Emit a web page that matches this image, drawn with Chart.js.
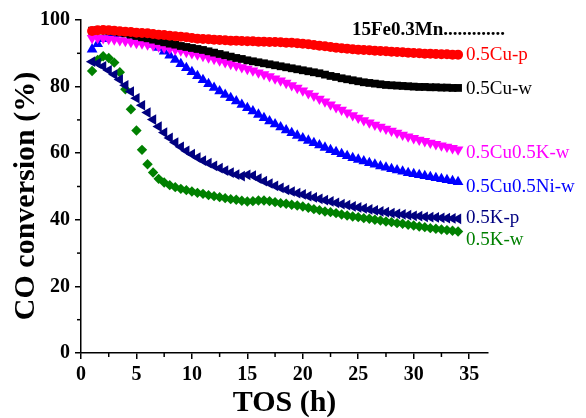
<!DOCTYPE html>
<html><head><meta charset="utf-8">
<script src="https://cdn.jsdelivr.net/npm/chart.js@4.4.0/dist/chart.umd.min.js"></script>
<style>html,body{margin:0;padding:0;background:#fff}</style>
</head><body>
<canvas id="c" width="586" height="418"></canvas>
<script>
const tos = [1,1.5,2,2.5,3,3.5,4,4.5,5,5.5,6,6.5,7,7.5,8,8.5,9,9.5,10,10.5,11,11.5,12,12.5,13,13.5,14,14.5,15,15.5,16,16.5,17,17.5,18,18.5,19,19.5,20,20.5,21,21.5,22,22.5,23,23.5,24,24.5,25,25.5,26,26.5,27,27.5,28,28.5,29,29.5,30,30.5,31,31.5,32,32.5,33,33.5,34];
const cuP = [96.7,96.9,97.0,96.9,96.8,96.6,96.5,96.4,96.2,96.1,
 96.0,95.8,95.6,95.5,95.3,95.1,95.0,94.8,94.6,94.4,
 94.3,94.2,94.1,94.0,93.9,93.8,93.8,93.7,93.6,93.6,
 93.5,93.5,93.4,93.4,93.3,93.2,93.2,93.0,92.9,92.7,
 92.5,92.3,92.1,91.9,91.7,91.5,91.4,91.2,91.1,91.0,
 90.9,90.8,90.7,90.6,90.5,90.4,90.3,90.2,90.1,90.0,
 89.9,89.9,89.8,89.7,89.7,89.6,89.6];
const cuW = [96.8,96.9,96.9,96.8,96.6,96.3,96.0,95.6,95.2,94.8,
 94.5,94.1,93.7,93.3,92.9,92.6,92.2,91.9,91.6,91.3,
 91.0,90.6,90.2,89.8,89.4,89.0,88.6,88.3,87.9,87.6,
 87.3,87.0,86.7,86.4,86.1,85.8,85.5,85.2,84.9,84.6,
 84.3,84.0,83.6,83.2,82.9,82.5,82.2,81.9,81.6,81.3,
 81.1,80.9,80.7,80.5,80.4,80.3,80.2,80.1,80.0,79.9,
 79.9,79.8,79.8,79.7,79.7,79.6,79.6];
const cuKW = [94.6,94.6,94.5,94.3,94.1,93.9,93.7,93.4,93.1,92.9,
 92.6,92.3,92.0,91.7,91.4,91.1,90.8,90.4,90.0,89.6,
 89.2,88.7,88.3,87.8,87.3,86.8,86.3,85.8,85.3,84.8,
 84.2,83.7,83.1,82.4,81.8,81.1,80.4,79.6,78.8,78.0,
 77.2,76.3,75.5,74.6,73.8,73.0,72.2,71.4,70.6,69.9,
 69.2,68.5,67.9,67.3,66.7,66.1,65.5,65.0,64.5,64.0,
 63.6,63.1,62.7,62.3,61.9,61.5,61.1];
const cuNiW = [91.2,92.8,94.3,95.3,95.8,96.0,95.9,95.6,95.1,94.4,
 93.6,92.7,91.7,90.6,89.4,88.1,86.8,85.6,84.4,83.2,
 82.0,80.8,79.7,78.6,77.6,76.6,75.6,74.6,73.6,72.6,
 71.6,70.6,69.6,68.7,67.8,66.9,66.1,65.3,64.5,63.8,
 63.1,62.4,61.7,61.0,60.4,59.8,59.2,58.6,58.1,57.6,
 57.1,56.6,56.1,55.7,55.3,54.9,54.5,54.1,53.8,53.5,
 53.2,52.9,52.6,52.3,52.0,51.7,51.4];
const kP = [87.5,87.0,86.1,84.9,83.6,82.1,80.4,78.5,76.5,74.4,
 72.2,70.1,68.0,66.2,64.6,63.2,61.9,60.7,59.7,58.7,
 57.8,57.0,56.2,55.5,54.8,54.2,53.6,53.1,53.5,53.3,
 52.4,51.6,50.9,50.2,49.6,49.0,48.5,48.0,47.6,47.1,
 46.7,46.3,45.9,45.5,45.1,44.7,44.4,44.0,43.7,43.4,
 43.1,42.8,42.5,42.3,42.0,41.8,41.6,41.4,41.2,41.1,
 40.9,40.8,40.7,40.6,40.5,40.4,40.3];
const kW = [84.7,88.0,89.1,88.6,87.2,84.3,79.2,73.2,66.8,61.0,
 56.7,54.2,52.3,51.2,50.4,49.8,49.3,48.9,48.5,48.1,
 47.8,47.4,47.1,46.8,46.5,46.2,46.0,45.7,45.5,45.6,
 45.8,45.8,45.6,45.3,45.0,44.8,44.5,44.3,44.0,43.6,
 43.2,42.9,42.5,42.3,42.0,41.6,41.3,41.0,40.8,40.5,
 40.3,40.0,39.8,39.5,39.3,39.0,38.8,38.5,38.3,38.0,
 37.8,37.5,37.3,37.1,36.9,36.7,36.5];
const seriesNames = ['0.5Cu-p','0.5Cu-w','0.5Cu0.5K-w','0.5Cu0.5Ni-w','0.5K-p','0.5K-w'];
const xTicks = [0,5,10,15,20,25,30,35];
const xMinorTicks = [2.5,7.5,12.5,17.5,22.5,27.5,32.5];
const yTicks = [0,20,40,60,80,100];
const yMinorTicks = [10,30,50,70,90];
const sampleLabel = '15Fe0.3Mn.............';
const xTitle = 'TOS (h)';
const yTitle = 'CO conversion (%)';

const pts = (ys) => tos.map((t,i)=>({x:t,y:ys[i]}));
const styles = [
  {c:'#FF0000', s:'circle', r:5, rot:0, dy:0},
  {c:'#000000', s:'rect', r:5.5, rot:0, dy:1},
  {c:'#FF00FF', s:'triangle', r:6.2, rot:180, dy:3},
  {c:'#0000FF', s:'triangle', r:6.2, rot:0, dy:5},
  {c:'#000080', s:'triangle', r:6.2, rot:-90, dy:-1},
  {c:'#008000', s:'rectRot', r:5.2, rot:0, dy:9}
];
const allSeries = [cuP, cuW, cuKW, cuNiW, kP, kW];
const datasets = allSeries.map((ys,i)=>({
  label: seriesNames[i], data: pts(ys), showLine:false,
  pointStyle: styles[i].s, pointRadius: styles[i].r, pointRotation: styles[i].rot,
  pointBackgroundColor: styles[i].c, pointBorderColor: styles[i].c, pointBorderWidth: 0,
  pointHoverRadius: styles[i].r
}));

const FONT = "'Liberation Serif','Times New Roman',serif";

const deco = {
  id:'deco',
  afterDraw(chart){
    const ctx = chart.ctx, xs = chart.scales.x, ys = chart.scales.y;
    const ca = chart.chartArea;
    ctx.save();
    ctx.strokeStyle = '#000'; ctx.lineWidth = 1.5;
    xMinorTicks.forEach(v=>{ const px = xs.getPixelForValue(v);
      ctx.beginPath(); ctx.moveTo(px, ca.bottom); ctx.lineTo(px, ca.bottom+4); ctx.stroke(); });
    yMinorTicks.forEach(v=>{ const py = ys.getPixelForValue(v);
      ctx.beginPath(); ctx.moveTo(ca.left, py); ctx.lineTo(ca.left-4, py); ctx.stroke(); });
    ctx.font = '19px ' + FONT; ctx.textBaseline = 'middle'; ctx.textAlign = 'left';
    chart.data.datasets.forEach((ds,i)=>{
      const last = ds.data[ds.data.length-1];
      ctx.fillStyle = styles[i].c;
      ctx.fillText(seriesNames[i], xs.getPixelForValue(last.x)+8, ys.getPixelForValue(last.y)+styles[i].dy);
    });
    ctx.fillStyle = '#000'; ctx.font = 'bold 19px ' + FONT;
    ctx.fillText(sampleLabel, 352, 30);
    // y axis title
    ctx.font = 'bold 30px ' + FONT; ctx.textAlign = 'center'; ctx.textBaseline = 'middle';
    ctx.translate(26, 196); ctx.rotate(-Math.PI/2);
    ctx.fillText(yTitle, 0, 0);
    ctx.restore();
  }
};

new Chart(document.getElementById('c'), {
  type:'scatter',
  data:{datasets},
  options:{
    responsive:false, animation:false, devicePixelRatio:1,
    layout:{padding:{top:20,right:98,left:0,bottom:0}},
    plugins:{legend:{display:false}, tooltip:{enabled:false}},
    scales:{
      x:{type:'linear', min:0, max:36.7,
        afterBuildTicks:(s)=>{ s.ticks = xTicks.map(v=>({value:v})); },
        afterFit:(s)=>{ s.height = 65; },
        ticks:{font:{family:FONT, weight:'bold', size:20}, color:'#000', padding:4, maxRotation:0},
        grid:{drawOnChartArea:false, drawTicks:true, tickLength:6, color:'#000', lineWidth:1.5},
        border:{display:true, color:'#000', width:1.5},
        title:{display:true, text:xTitle, color:'#000', font:{family:FONT, weight:'bold', size:30, lineHeight:1}, padding:{top:0,bottom:0}}
      },
      y:{type:'linear', min:0, max:100,
        afterBuildTicks:(s)=>{ s.ticks = yTicks.map(v=>({value:v})); },
        afterFit:(s)=>{ s.width = 81; },
        ticks:{font:{family:FONT, weight:'bold', size:20}, color:'#000', padding:5},
        grid:{drawOnChartArea:false, drawTicks:true, tickLength:6, color:'#000', lineWidth:1.5},
        border:{display:true, color:'#000', width:1.5},
        title:{display:false}
      }
    }
  },
  plugins:[deco]
});
</script>
</body></html>
